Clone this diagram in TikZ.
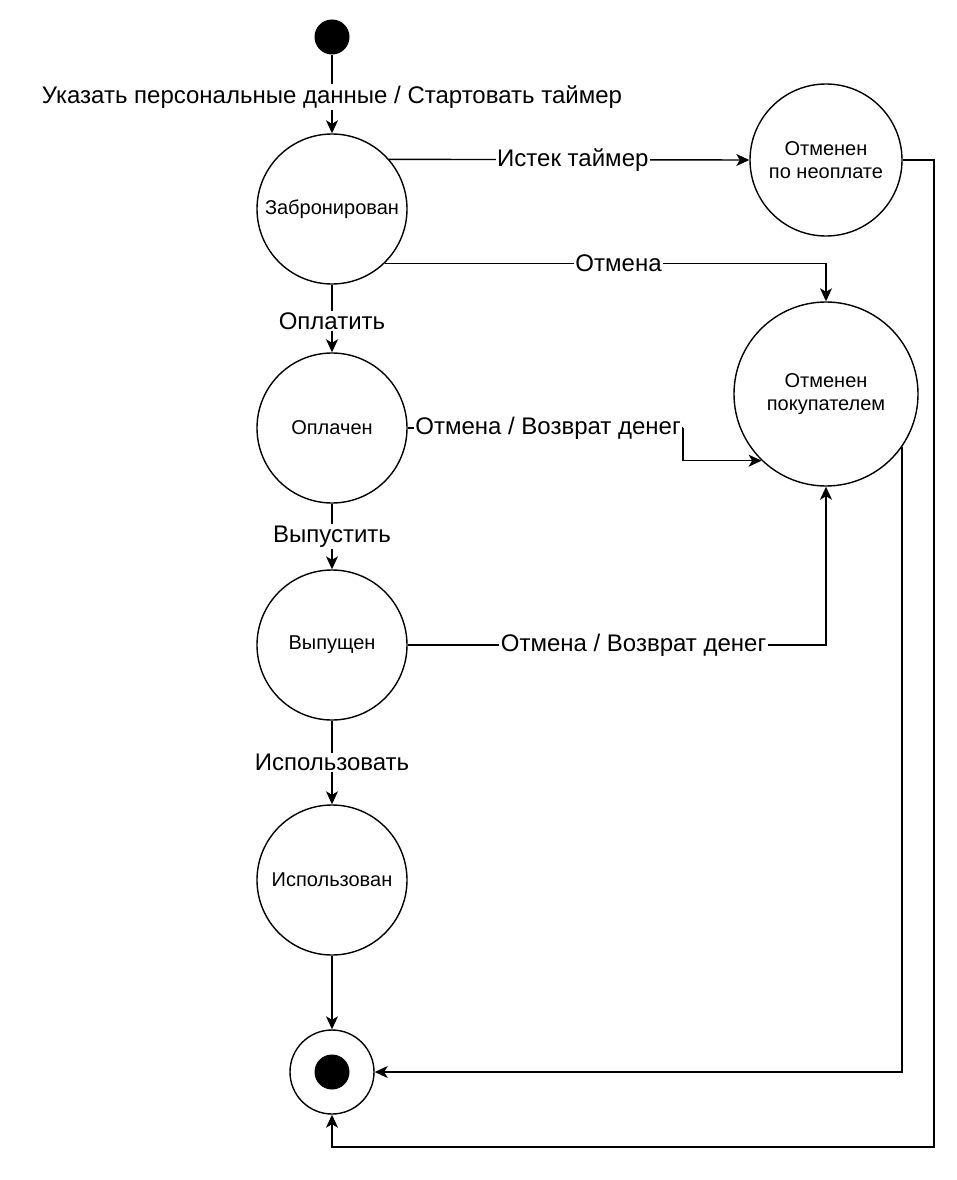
\documentclass[tikz,border=0pt]{standalone}
\usepackage{fontspec}
\setmainfont{Liberation Sans}
\usetikzlibrary{arrows.meta,calc}
\begin{document}
\begin{tikzpicture}[x=1pt,y=-1pt,
  state/.style={circle,draw,line width=1.4pt,minimum size=150pt,inner sep=0pt,align=center,font=\fontsize{20}{23}\selectfont},
  lbl/.style={fill=white,inner sep=1.5pt,font=\fontsize{24}{27}\selectfont},
  arr/.style={-{Stealth[length=13pt,width=12pt,inset=3.5pt]},line width=1.4pt},
  dot/.style={circle,fill=black,inner sep=0pt}]
\useasboundingbox (0,0) rectangle (956,1180);
% nodes
\node[dot,minimum size=35pt] (start) at (332,37) {};
\node[state] (zab) at (332,209) {Забронирован};
\node[state] (opl) at (332,428) {Оплачен};
\node[state] (vyp) at (332,645) {Выпущен};
\node[state] (isp) at (332,880) {Использован};
\node[circle,draw,line width=1.4pt,minimum size=84pt,inner sep=0pt] (fin) at (332,1072) {};
\node[dot,minimum size=35pt] (finin) at (fin.center) {};
\node[state,minimum size=152pt] (neo) at (826,160) {Отменен\\по неоплате};
\node[state,minimum size=184pt] (pok) at (826,394) {Отменен\\покупателем};
% helper coordinates
\coordinate (c1) at (683,428);
\coordinate (c2) at (934,160);
\coordinate (c3) at (934,1147);
% edges
\draw[arr] (start) -- node[lbl,pos=0.54]{Указать персональные данные / Стартовать таймер} (zab);
\draw[arr] (zab.41) -- node[lbl,pos=0.51]{Истек таймер} (neo.west);
\draw[arr] (zab.-46) -| node[lbl,pos=0.265]{Отмена} (pok.north);
\draw[arr] (zab) -- node[lbl,pos=0.54]{Оплатить} (opl);
\draw[line width=1.4pt] (opl.east) -- node[lbl,pos=0.51]{Отмена / Возврат денег} (c1);
\draw[arr] (c1) |- (pok.226);
\draw[arr] (opl) -- node[lbl]{Выпустить} (vyp);
\draw[arr] (vyp.east) -| node[lbl,pos=0.27]{Отмена / Возврат денег} (pok.south);
\draw[arr] (vyp) -- node[lbl]{Использовать} (isp);
\draw[arr] (isp) -- (fin);
\draw[arr] (pok.-35) |- (fin.east);
\draw[arr] (neo.east) -- (c2) -- (c3) -| (fin.south);
\end{tikzpicture}
\end{document}
